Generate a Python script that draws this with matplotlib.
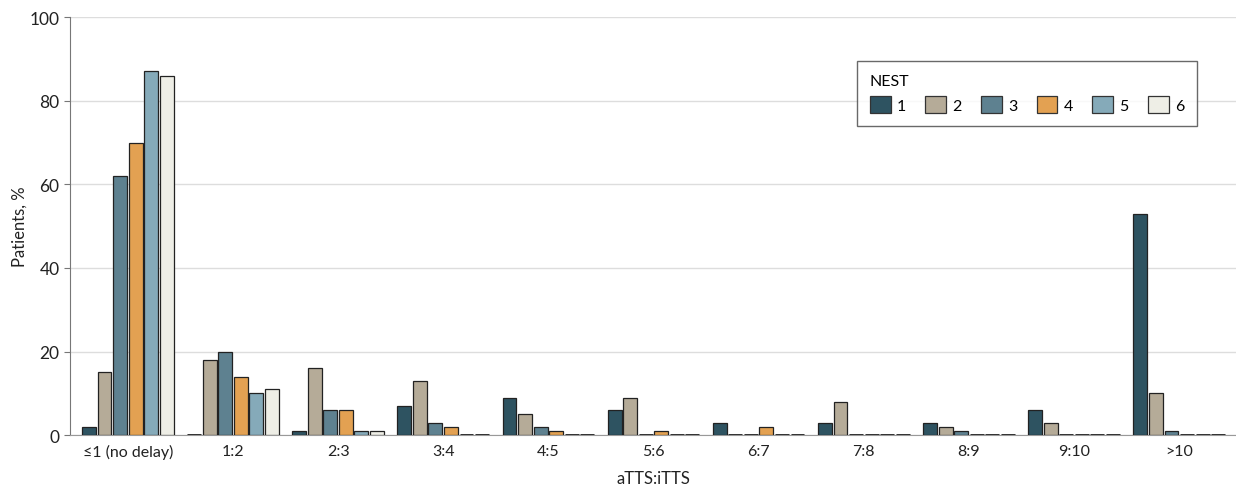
import numpy as np
import matplotlib.pyplot as plt
from matplotlib.patches import Patch

plt.rcParams['font.family'] = ['Lato', 'DejaVu Sans']

categories = ['≤1 (no delay)', '1:2', '2:3', '3:4', '4:5', '5:6', '6:7', '7:8', '8:9', '9:10', '>10']
nest_labels = ['1', '2', '3', '4', '5', '6']
nest1 = [2, 0, 1, 7, 9, 6, 3, 3, 3, 6, 53]
nest2 = [15, 18, 16, 13, 5, 9, 0, 8, 2, 3, 10]
nest3 = [62, 20, 6, 3, 2, 0, 0, 0, 1, 0, 1]
nest4 = [70, 14, 6, 2, 1, 1, 2, 0, 0, 0, 0]
nest5 = [87, 10, 1, 0, 0, 0, 0, 0, 0, 0, 0]
nest6 = [86, 11, 1, 0, 0, 0, 0, 0, 0, 0, 0]
series = [nest1, nest2, nest3, nest4, nest5, nest6]

colors = ['#2E5361', '#B5AB98', '#5E8190', '#E3A152', '#85AAB9', '#EEEEE6']

fig = plt.figure(figsize=(12.36, 4.89), dpi=100)
ax = fig.add_axes([0.0566, 0.108, 0.9434, 0.855])

x = np.arange(len(categories))
step = 0.148
width = 0.132
for i, vals in enumerate(series):
    offs = (i - 2.5) * step
    vals = np.array(vals)
    ax.bar(x + offs, vals, width, color=colors[i], edgecolor='#222222',
           linewidth=0.9, zorder=3)
    # zero values show as a dark flat line
    zx = (x + offs)[vals == 0]
    ax.hlines(np.zeros(len(zx)), zx - width / 2, zx + width / 2,
              color='#222222', linewidth=2, zorder=4)

ax.set_ylim(0, 100)
ax.set_xlim(-0.55, len(categories) - 1 + 0.54)
ax.set_yticks(range(0, 101, 20))
ax.set_xticks(x)
ax.set_xticklabels(categories)
ax.yaxis.grid(True, color='#dddddd', linewidth=1, zorder=0)
ax.tick_params(axis='x', length=0, labelsize=11.5, colors='#222222', pad=6)
ax.tick_params(axis='y', length=4, labelsize=12.5, colors='#222222', color='#777777')
for s in ['top', 'right']:
    ax.spines[s].set_visible(False)
ax.spines['left'].set_color('#777777')
ax.spines['bottom'].set_color('#999999')
ax.set_xlabel('aTTS:iTTS', fontsize=12, color='#222222', labelpad=8)
ax.set_ylabel('Patients, %', fontsize=12, color='#222222')
ax.yaxis.set_label_coords(-0.036, 0.5)

handles = [Patch(facecolor=c, edgecolor='#333333', linewidth=0.9) for c in colors]
leg = ax.legend(handles, nest_labels, title='NEST', ncol=6, loc='upper left',
                bbox_to_anchor=(0.675, 0.895), borderaxespad=0, frameon=True,
                fancybox=False, fontsize=11.5, title_fontsize=11.5,
                handlelength=1.3, handleheight=1.3, handletextpad=0.4,
                columnspacing=1.2, borderpad=0.8)
leg.get_frame().set_edgecolor('#444444')
leg.get_frame().set_linewidth(1)
leg._legend_box.align = 'left'

fig.savefig('out.png', dpi=100)
